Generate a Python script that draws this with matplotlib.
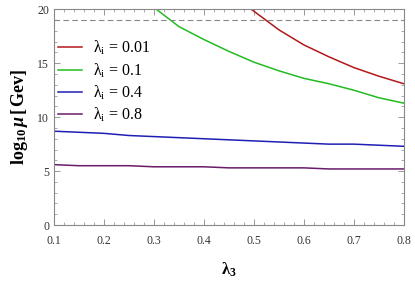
import numpy as np
import matplotlib.pyplot as plt
from matplotlib.ticker import MultipleLocator

plt.rcParams['font.family'] = ['Liberation Serif', 'DejaVu Serif']
plt.rcParams['mathtext.fontset'] = 'custom'
plt.rcParams['mathtext.rm'] = 'Liberation Serif'
plt.rcParams['mathtext.it'] = 'Liberation Serif:italic'
plt.rcParams['mathtext.bf'] = 'Liberation Serif:bold'
plt.rcParams['mathtext.bfit'] = 'Liberation Serif:italic:bold'

# data
lam3_red = [0.495, 0.55, 0.6, 0.65, 0.7, 0.75, 0.8]
mu_red = [20.0, 18.1, 16.7, 15.6, 14.6, 13.8, 13.1]

lam3_green = [0.305, 0.35, 0.4, 0.45, 0.5, 0.55, 0.6, 0.65, 0.7, 0.75, 0.8]
mu_green = [20.0, 18.4, 17.2, 16.1, 15.1, 14.3, 13.6, 13.1, 12.5, 11.8, 11.3]

lam3 = [0.1, 0.15, 0.2, 0.25, 0.3, 0.35, 0.4, 0.45, 0.5, 0.55, 0.6, 0.65, 0.7, 0.75, 0.8]
mu_blue = [8.7, 8.6, 8.5, 8.3, 8.2, 8.1, 8.0, 7.9, 7.8, 7.7, 7.6, 7.5, 7.5, 7.4, 7.3]
mu_purple = [5.6, 5.5, 5.5, 5.5, 5.4, 5.4, 5.4, 5.3, 5.3, 5.3, 5.3, 5.2, 5.2, 5.2, 5.2]

labels = ['0.01', '0.1', '0.4', '0.8']
colors = ['#b2181a', '#22bb22', '#1f1fb4', '#6a1b6a']
mu_max = 19.05

fig = plt.figure(figsize=(4.15, 2.82), dpi=100)
ax = fig.add_axes([0.130, 0.202, 0.843, 0.765])

series = [(lam3_red, mu_red), (lam3_green, mu_green), (lam3, mu_blue), (lam3, mu_purple)]
for (x, y), c, lab in zip(series, colors, labels):
    ax.plot(x, y, color=c, lw=1.1, label=r'$\mathrm{\lambda_i\,=\,%s}$' % lab)
ax.axhline(mu_max, color='#888888', lw=0.8, ls=(0, (5, 3)))

ax.set_xlim(0.1, 0.8)
ax.set_ylim(0, 20)
ax.xaxis.set_major_locator(MultipleLocator(0.1))
ax.xaxis.set_minor_locator(MultipleLocator(0.02))
ax.yaxis.set_major_locator(MultipleLocator(5))
ax.yaxis.set_minor_locator(MultipleLocator(1))
ax.tick_params(which='both', direction='in', top=True, right=True, color='#888888',
               labelsize=8.5, labelcolor='#333333')
ax.tick_params(which='major', length=4, width=0.6)
ax.tick_params(which='minor', length=2, width=0.5)
ax.tick_params(axis='x', pad=7)
for s in ax.spines.values():
    s.set_color('#888888')
    s.set_linewidth(0.8)

ax.set_xlabel(r'$\mathbf{\lambda_3}$', fontsize=12, labelpad=10)
ax.set_ylabel(r'$\mathbf{log_{10}}\,\mathbfit{\mu}\,\mathbf{[\,Gev]}$', fontsize=13, labelpad=5)

ax.legend(loc='upper left', bbox_to_anchor=(-0.03, 0.93), frameon=False, fontsize=11.5,
          handlelength=1.5, labelspacing=0.25, handletextpad=0.7)

fig.savefig('out.png', dpi=100)
